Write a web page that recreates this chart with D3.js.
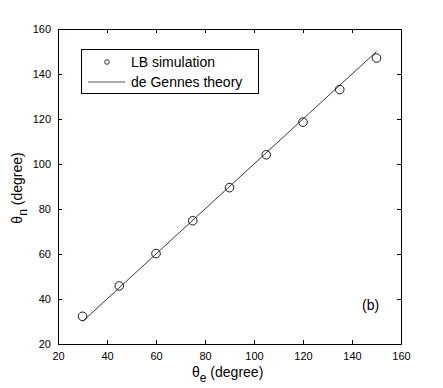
<!DOCTYPE html>
<html lang="en">
<head>
<meta charset="utf-8" />
<script src="https://cdn.jsdelivr.net/npm/d3@7"></script>
<style>
  body { margin: 0; background: #fff; }
  text { font-family: "Liberation Sans", Arial, sans-serif; fill: #000; }
</style>
</head>
<body>
<svg id="chart"></svg>
<script>
var w = 443, h = 388;
var margin = { left: 58, right: 42, top: 29, bottom: 44 };

// LB simulation points
var thetaE = [30, 45, 60, 75, 90, 105, 120, 135, 150];
var thetaN = [32.3, 45.8, 60.2, 74.8, 89.5, 104.1, 118.6, 133.1, 147.1];
// de Gennes theory line endpoints
var theoryX = [30, 150];
var theoryY = [30, 150];
var xTicks = [20, 40, 60, 80, 100, 120, 140, 160];
var yTicks = [20, 40, 60, 80, 100, 120, 140, 160];

var svg = d3.select('#chart').attr('width', w).attr('height', h);

var x = d3.scaleLinear().domain([20, 160]).range([margin.left, w - margin.right]);
var y = d3.scaleLinear().domain([20, 160]).range([h - margin.bottom, margin.top]);

// axes with inward ticks
svg.append('g')
   .attr('transform', 'translate(0,' + y(20) + ')')
   .call(d3.axisBottom(x).tickValues(xTicks).tickSizeInner(-4).tickSizeOuter(0).tickPadding(8))
   .call(function(g) { g.selectAll('text').attr('font-size', 11).attr('dy', '0.71em'); });
svg.append('g')
   .attr('transform', 'translate(' + x(20) + ',0)')
   .call(d3.axisLeft(y).tickValues(yTicks).tickSizeInner(-4).tickSizeOuter(0).tickPadding(7))
   .call(function(g) { g.selectAll('text').attr('font-size', 11); });
svg.append('g')
   .attr('transform', 'translate(0,' + y(160) + ')')
   .call(d3.axisTop(x).tickValues(xTicks).tickSizeInner(-4).tickSizeOuter(0).tickFormat(''));
svg.append('g')
   .attr('transform', 'translate(' + x(160) + ',0)')
   .call(d3.axisRight(y).tickValues(yTicks).tickSizeInner(-4).tickSizeOuter(0).tickFormat(''));
svg.selectAll('.domain').attr('stroke', '#000');
svg.selectAll('.tick line').attr('stroke', '#000');

// theory line
svg.append('line')
   .attr('x1', x(theoryX[0])).attr('y1', y(theoryY[0]))
   .attr('x2', x(theoryX[1])).attr('y2', y(theoryY[1]))
   .attr('stroke', '#222').attr('stroke-width', 0.9);

// simulation markers
svg.selectAll('circle.pt')
   .data(thetaE)
   .enter()
   .append('circle')
   .attr('class', 'pt')
   .attr('cx', function(d) { return x(d); })
   .attr('cy', function(d, i) { return y(thetaN[i]); })
   .attr('r', 4.3)
   .attr('fill', 'none')
   .attr('stroke', '#000')
   .attr('stroke-width', 0.9);

// legend
var lg = svg.append('g');
lg.append('rect')
  .attr('x', 81.5).attr('y', 49.5).attr('width', 177).attr('height', 44)
  .attr('fill', '#fff').attr('stroke', '#000');
lg.append('circle')
  .attr('cx', 107).attr('cy', 62).attr('r', 2.3)
  .attr('fill', 'none').attr('stroke', '#000').attr('stroke-width', 0.8);
lg.append('text').attr('x', 131).attr('y', 67).attr('font-size', 14).text('LB simulation');
lg.append('line')
  .attr('x1', 88).attr('x2', 125).attr('y1', 82).attr('y2', 82)
  .attr('stroke', '#444').attr('stroke-width', 0.9);
lg.append('text').attr('x', 131).attr('y', 87).attr('font-size', 14).text('de Gennes theory');

// panel tag
svg.append('text').attr('x', 362).attr('y', 310).attr('font-size', 14).text('(b)');

// axis titles
var xt = svg.append('text').attr('x', 192).attr('y', 377).attr('font-size', 14);
xt.append('tspan').text('\u03b8');
xt.append('tspan').attr('font-size', 12).attr('dy', 5).text('e');
xt.append('tspan').attr('dy', -5).text(' (degree)');

var yt = svg.append('text')
   .attr('transform', 'translate(22,' + 188 + ') rotate(-90)')
   .attr('text-anchor', 'middle').attr('font-size', 14);
yt.append('tspan').text('\u03b8');
yt.append('tspan').attr('font-size', 12).attr('dy', 5).text('n');
yt.append('tspan').attr('dy', -5).text(' (degree)');
</script>
</body>
</html>
